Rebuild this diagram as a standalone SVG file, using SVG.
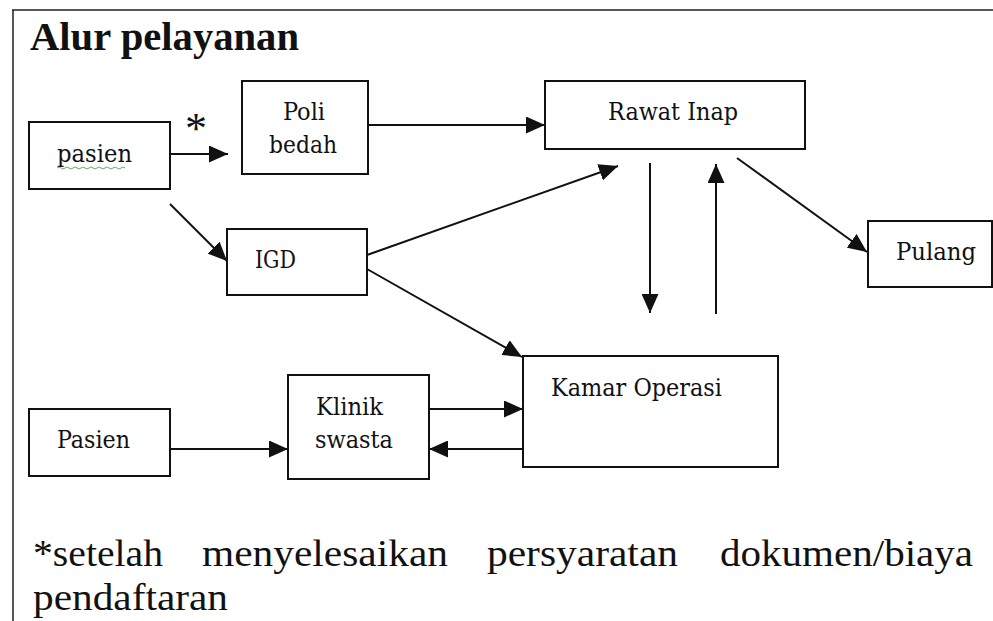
<svg xmlns="http://www.w3.org/2000/svg" width="993" height="621" viewBox="0 0 993 621">
<style>
.box{fill:#fff;stroke:#111;stroke-width:2}
.lbl{font-family:"DejaVu Serif Condensed","DejaVu Serif","Liberation Serif",serif;font-size:24px;fill:#111}
.con{stroke:#111;stroke-width:2;fill:none;marker-end:url(#ah)}
.frame{stroke:#222;stroke-width:1.5;fill:none}
.big{font-family:"Liberation Serif","Times New Roman",serif;font-size:37px;fill:#111}
</style>
<defs>
<marker id="ah" viewBox="0 0 19 17" refX="19" refY="8.5" markerWidth="19" markerHeight="17" markerUnits="userSpaceOnUse" orient="auto">
<path d="M0,0 L19,8.5 L0,17 Z" fill="#111"/>
</marker>
</defs>
<rect width="993" height="621" fill="#fff"/>
<path class="frame" d="M12,10 H993 M13,10 V621"/>
<text x="30" y="50" font-family="Liberation Serif,Times New Roman,serif" font-weight="bold" font-size="39" fill="#111" textLength="269" lengthAdjust="spacingAndGlyphs">Alur pelayanan</text>

<g id="connectors">
<line class="con" x1="170" y1="154" x2="228" y2="154"/>
<line class="con" x1="368" y1="125" x2="545" y2="125"/>
<line class="con" x1="170" y1="204" x2="227" y2="261"/>
<line class="con" x1="367" y1="255" x2="618" y2="166"/>
<line class="con" x1="367" y1="269" x2="522" y2="357"/>
<line class="con" x1="650" y1="163" x2="650" y2="313"/>
<line class="con" x1="716" y1="314" x2="716" y2="164"/>
<line class="con" x1="737" y1="158" x2="867" y2="252"/>
<line class="con" x1="170" y1="449" x2="288" y2="449"/>
<line class="con" x1="429" y1="409" x2="523" y2="409"/>
<line class="con" x1="523" y1="449" x2="429" y2="449"/>
</g>

<g id="node-pasien">
<rect class="box" x="29" y="122" width="141" height="67"/>
<text class="lbl" x="57" y="162" textLength="75" lengthAdjust="spacingAndGlyphs">pasien</text>
<path d="M57,168 q2,-2 4,0 t4,0 t4,0 t4,0 t4,0 t4,0 t4,0 t4,0 t4,0 t4,0 t4,0 t4,0 t4,0 t4,0 t4,0 t4,0 t4,0" stroke="#6aa86a" stroke-width="1" fill="none"/>
</g>
<text id="asterisk" x="185" y="143" font-family="Liberation Serif,serif" font-size="44" fill="#111">*</text>

<g id="node-poli">
<rect class="box" x="242" y="81" width="126" height="93"/>
<text class="lbl" x="283" y="120" textLength="42" lengthAdjust="spacingAndGlyphs">Poli</text>
<text class="lbl" x="269" y="153" textLength="68" lengthAdjust="spacingAndGlyphs">bedah</text>
</g>

<g id="node-rawat">
<rect class="box" x="545" y="81" width="260" height="68"/>
<text class="lbl" x="608" y="120" textLength="130" lengthAdjust="spacingAndGlyphs">Rawat Inap</text>
</g>

<g id="node-igd">
<rect class="box" x="227" y="229" width="140" height="66"/>
<text class="lbl" x="255" y="268" textLength="41" lengthAdjust="spacingAndGlyphs">IGD</text>
</g>

<g id="node-pulang">
<rect class="box" x="868" y="221" width="124" height="66"/>
<text class="lbl" x="896" y="260" textLength="80" lengthAdjust="spacingAndGlyphs">Pulang</text>
</g>

<g id="node-kamar">
<rect class="box" x="523" y="356" width="255" height="111"/>
<text class="lbl" x="551" y="396" textLength="171" lengthAdjust="spacingAndGlyphs">Kamar Operasi</text>
</g>

<g id="node-pasien2">
<rect class="box" x="29" y="409" width="141" height="67"/>
<text class="lbl" x="57" y="448" textLength="73" lengthAdjust="spacingAndGlyphs">Pasien</text>
</g>

<g id="node-klinik">
<rect class="box" x="288" y="375" width="141" height="104"/>
<text class="lbl" x="316" y="415" textLength="67" lengthAdjust="spacingAndGlyphs">Klinik</text>
<text class="lbl" x="315" y="448" textLength="78" lengthAdjust="spacingAndGlyphs">swasta</text>
</g>

<g id="footnote">
<text class="big" x="33" y="566" textLength="130" lengthAdjust="spacingAndGlyphs">*setelah</text>
<text class="big" x="202" y="566" textLength="246" lengthAdjust="spacingAndGlyphs">menyelesaikan</text>
<text class="big" x="487" y="566" textLength="191" lengthAdjust="spacingAndGlyphs">persyaratan</text>
<text class="big" x="720" y="566" textLength="253" lengthAdjust="spacingAndGlyphs">dokumen/biaya</text>
<text class="big" x="33" y="610" textLength="195" lengthAdjust="spacingAndGlyphs">pendaftaran</text>
</g>
</svg>
